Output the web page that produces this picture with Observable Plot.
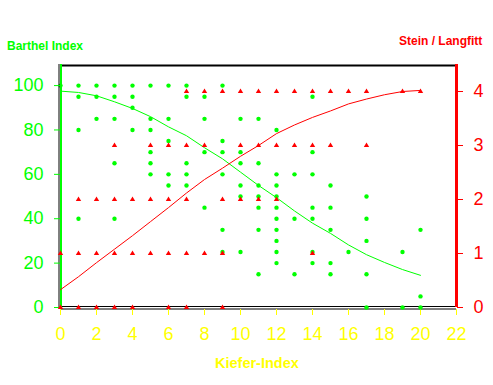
<!DOCTYPE html>
<html><head><meta charset="utf-8">
<script src="https://cdn.jsdelivr.net/npm/d3@7"></script>
<script src="https://cdn.jsdelivr.net/npm/@observablehq/plot@0.6"></script>
<style>
body{margin:0;background:#fff;}
#wrap{position:relative;width:493px;height:385px;overflow:hidden;font-family:"Liberation Sans",Arial,sans-serif;}
#wrap svg{position:absolute;left:0;top:0;}
.t{position:absolute;font-weight:bold;white-space:nowrap;}
</style></head><body>
<div id="wrap">
  <div class="t" id="tl" style="left:7px;top:39px;font-size:12px;color:#00ff00;">Barthel Index</div>
  <div class="t" id="tr" style="left:399px;top:34px;font-size:12px;color:#ff0000;">Stein / Langfitt</div>
  <div class="t" id="tb" style="left:215px;top:355px;font-size:14.5px;color:#ffff00;">Kiefer-Index</div>
</div>
<script>
// Barthel Index scatter (green dots)
const barthelX = [0, 1,1,1,1, 2,2,2, 3,3,3,3,3, 4,4,4,4, 5,5,5,5,5,5, 6,6,6,6,6, 7,7,7,7,7,
  8,8,8,8, 9,9,9,9,9,9, 10,10,10,10,10,10, 11,11,11,11,11,11,11,
  12,12,12,12,12,12,12,12,12,12, 13,13,13, 14,14,14,14,14,14,14,
  15,15,15,15,15, 16, 17,17,17,17,17, 19,19, 20,20,20];
const barthelY = [100, 100,95,80,40, 100,95,85, 100,95,85,65,40, 100,95,90,80, 100,85,80,70,65,60, 100,85,75,60,55, 100,95,65,60,55,
  95,85,70,45, 100,75,70,60,35,25, 85,70,65,55,50,25, 85,65,55,50,45,35,15,
  80,60,55,50,45,40,35,30,25,20, 60,40,15, 95,70,60,45,40,25,20,
  55,45,35,20,15, 25, 50,40,30,15,0, 25,0, 35,5,0];

// Stein / Langfitt scatter (red triangles): Kiefer-Index values at each level
const steinLevels = [4, 3, 2, 1, 0];
const steinAt4 = [7,8,9,10,11,12,13,14,15,16,17,19,20];
const steinAt3 = [3,5,6,7,8,10,11,12,13,14,15,17];
const steinAt2 = [1,2,3,4,5,6,7,9,10,11,12];
const steinAt1 = [0,1,2,3,4,5,6,7,8,9,14];
const steinAt0 = [0,1,2,3,4,6,7,9];

// fitted curves
const fitX = [0,1,2,3,4,5,6,7,8,9,10,11,12,13,14,15,16,17,18,19,20];
const fitBarthel = [97.5,96.9,95.4,92.7,89.7,86,81.4,77.4,72,67,61,55,49.5,43.5,38,33.4,28.2,23.8,20.3,17.1,14.5];
const fitStein = [0.33,0.57,0.83,1.08,1.33,1.59,1.85,2.12,2.37,2.58,2.8,3.0,3.22,3.38,3.52,3.64,3.77,3.86,3.94,4.0,4.02];

const xTicks = [0,2,4,6,8,10,12,14,16,18,20,22];
const leftTicks = [0,20,40,60,80,100];
const rightTicks = [0,1,2,3,4];

const G = "#00ff00", R = "#ff0000", Y = "#ffff00";
const W = 493, H = 385;
const M = {marginTop: 64, marginBottom: 78, marginLeft: 60, marginRight: 37};
const style = {fontFamily: "Liberation Sans, Arial, sans-serif", fontSize: "18px", background: "transparent", overflow: "visible"};

const barthel = barthelX.map((x, i) => ({x, y: barthelY[i]}));
const stein = [steinAt4, steinAt3, steinAt2, steinAt1, steinAt0].flatMap((arr, i) => arr.map(x => ({x, y: steinLevels[i]})));
const fitB = fitX.map((x, i) => ({x, y: fitBarthel[i]}));
const fitS = fitX.map((x, i) => ({x, y: fitStein[i]}));

const left = Plot.plot({
  width: W, height: H, ...M, style,
  x: {domain: [0, 22], axis: null},
  y: {domain: [0, 109.5], axis: null},
  marks: [
    Plot.ruleY([109.5], {stroke: "black", strokeWidth: 2, dy: 1}),
    Plot.ruleY([0], {stroke: "black", strokeWidth: 1, dy: -1}),
    Plot.ruleY([0], {stroke: "black", strokeWidth: 1, dy: 1.5}),
    Plot.axisX(xTicks, {color: Y, tickSize: 6, tickPadding: 12, dy: 2, fontSize: 18, label: null, tickFormat: d => String(d)}),
    Plot.line(fitB, {x: "x", y: "y", stroke: G, strokeWidth: 1}),
    Plot.dot(barthel, {x: "x", y: "y", fill: G, r: 2.2}),
    Plot.ruleX([0], {stroke: "black", strokeWidth: 1, dx: -1.5}),
    Plot.ruleX([0], {stroke: G, strokeWidth: 2, dx: 0.5}),
    Plot.axisY(leftTicks, {color: G, tickSize: 6, tickPadding: 11, fontSize: 18, label: null, tickFormat: d => String(d)})
  ]
});

const right = Plot.plot({
  width: W, height: H, ...M, style,
  x: {domain: [0, 22], axis: null},
  y: {domain: [0, 4.5], axis: null},
  marks: [
    Plot.line(fitS, {x: "x", y: "y", stroke: R, strokeWidth: 1}),
    Plot.dot(stein, {x: "x", y: "y", symbol: "triangle", fill: R, r: 2}),
    Plot.ruleX([22], {stroke: R, strokeWidth: 3}),
    Plot.axisY(rightTicks, {anchor: "right", color: R, tickSize: 6, tickPadding: 11, fontSize: 18, label: null, tickFormat: d => String(d)})
  ]
});

const wrap = document.getElementById("wrap");
wrap.insertBefore(left, wrap.firstChild);
wrap.insertBefore(right, left.nextSibling);
</script>
</body></html>
